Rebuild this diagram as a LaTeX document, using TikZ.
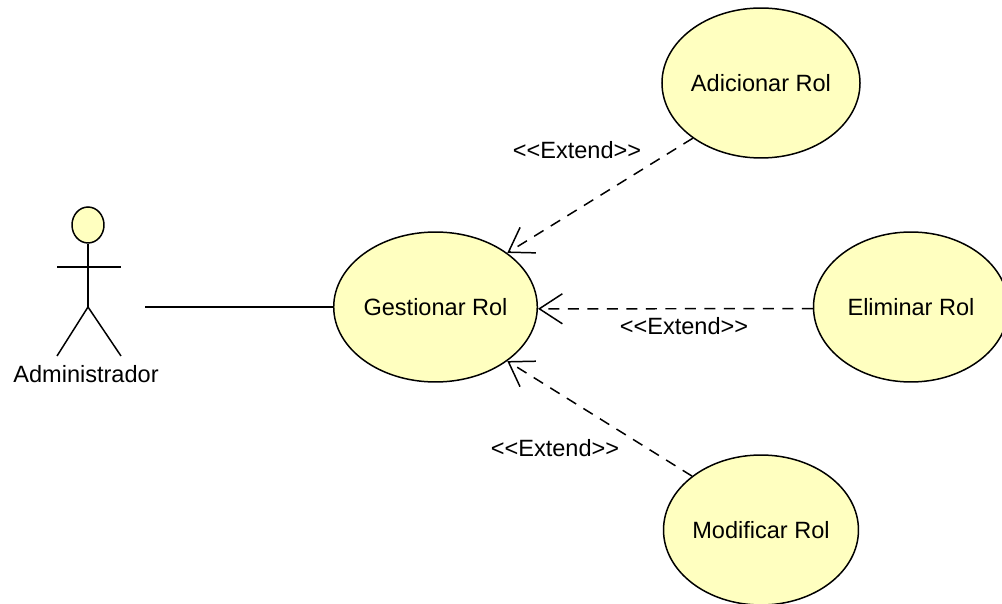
\documentclass[tikz,border=0pt]{standalone}
\usepackage{fontspec}
\setmainfont{Liberation Sans}
\usetikzlibrary{shapes.geometric,arrows.meta}
\definecolor{casefill}{HTML}{FFFFC0}
\tikzset{
  usecase/.style={ellipse,draw,fill=casefill,line width=0.85pt,inner sep=0pt,
    minimum width=3.9cm,minimum height=3cm,font=\fontsize{13.4}{16}\selectfont},
  caselabel/.style={inner sep=0pt,font=\fontsize{13.4}{16}\selectfont},
  extend/.style={draw,line width=0.85pt,dash pattern=on 0.22cm off 0.17cm,
    -{Straight Barb[length=0.46cm,width=0.6cm,line width=0.85pt]}}
}
\begin{document}
\begin{tikzpicture}[x=0.02cm,y=-0.02cm]
      \useasboundingbox (0,0) rectangle (1002,604);
      \draw
        (435.5,307) node[usecase] (gestionar){Gestionar Rol}
        (761,83) node[usecase] (adicionar){Adicionar Rol}
        (911,307) node[usecase] (eliminar){Eliminar Rol}
        (761,530) node[usecase] (modificar){Modificar Rol}
        (88,225) node[ellipse,draw,fill=casefill,line width=0.85pt,inner sep=0pt,
          minimum width=0.64cm,minimum height=0.72cm] (head){}
        (88,267) coordinate (arms)
        (57,267) coordinate (armleft)
        (121,267) coordinate (armright)
        (88,307) coordinate (hip)
        (57,356) coordinate (legleft)
        (121,356) coordinate (legright)
        (145,307) coordinate (start)
        (86,374) node[caselabel] (administrador){Administrador}
        (577,150) node[caselabel] (extend1){<{}<Extend>{}>}
        (684,326) node[caselabel] (extend2){<{}<Extend>{}>}
        (555,448) node[caselabel] (extend3){<{}<Extend>{}>};
      \begin{scope}[line width=0.85pt]
        \draw (head) to (hip);
        \draw (armleft) to (armright);
        \draw (hip) to (legleft);
        \draw (hip) to (legright);
        \draw (start) to (gestionar);
      \end{scope}
      \begin{scope}[extend]
        \draw (adicionar.219) to (gestionar.37);
        \draw (eliminar.181) to (gestionar.359);
        \draw (modificar.142) to (gestionar.323);
      \end{scope}
    \end{tikzpicture}
\end{document}
